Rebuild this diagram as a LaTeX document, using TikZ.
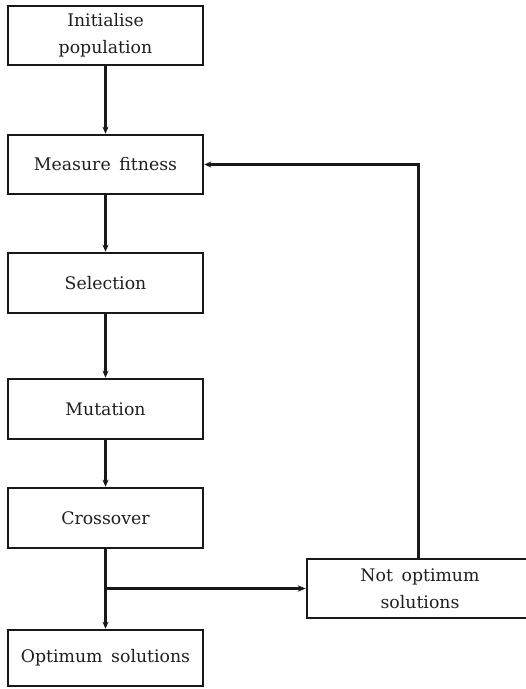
\documentclass[tikz,border=0pt]{standalone}
\usepackage{fontspec}
\setmainfont{DejaVu Serif}
\usetikzlibrary{arrows.meta}
\begin{document}
\begin{tikzpicture}[x=1pt,y=-1pt,
  box/.style={draw=black!90, line width=2.6pt, minimum width=195pt, inner sep=0pt,
    align=center, font=\fontsize{17.3}{27}\selectfont, text=black!88},
  conn/.style={line width=2.2pt, draw=black!90, -{Stealth[length=7pt,width=6pt]}},
  thick conn/.style={line width=3pt, draw=black!90, -{Stealth[length=8pt,width=6.5pt]}}]
\useasboundingbox (0,0) rectangle (526,689);
\node[box, minimum height=59pt] (init) at (105.5,35.5) {Initialise\\population};
\node[box, minimum height=59pt] (meas) at (105.5,164.5) {Measure\hspace{0.5em}fitness};
\node[box, minimum height=60pt] (sel) at (105.5,283) {Selection};
\node[box, minimum height=60pt] (mut) at (105.5,409) {Mutation};
\node[box, minimum height=60pt] (cross) at (105.5,518) {Crossover};
\node[box, minimum height=56pt] (opt) at (105.5,658) {Optimum\hspace{0.5em}solutions};
\node[box, minimum width=260pt, minimum height=59pt] (nopt) at (437,588.5)
  {\hspace*{-34pt}Not\hspace{0.5em}optimum\\\hspace*{-34pt}solutions};
\coordinate (j) at (105.5,588.5);
\coordinate (corner) at (418.5,164.5);
\draw[conn] (init) -- (meas);
\draw[conn] (meas) -- (sel);
\draw[conn] (sel) -- (mut);
\draw[conn] (mut) -- (cross);
\draw[conn] (cross) -- (opt);
\draw[thick conn] (j) -- (nopt.west);
\draw[conn] (corner |- nopt.north) -- (corner) -- (meas.east);
\end{tikzpicture}
\end{document}
